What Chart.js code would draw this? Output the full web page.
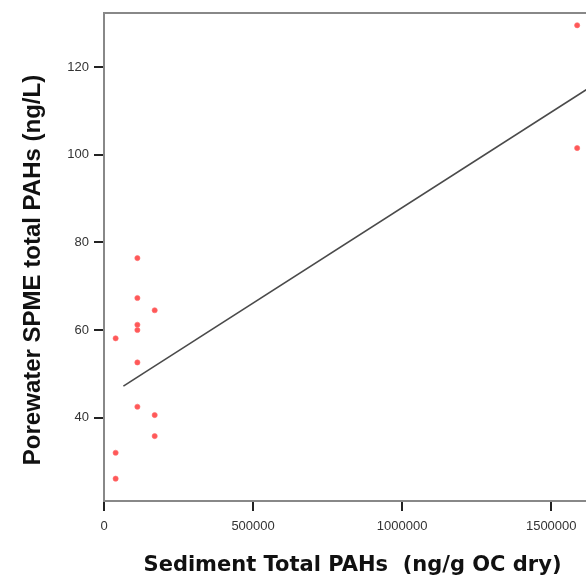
<!DOCTYPE html>
<html><head><meta charset="utf-8">
<script src="https://cdn.jsdelivr.net/npm/chart.js@4.4.1/dist/chart.umd.min.js"></script>
<style>html,body{margin:0;padding:0;background:#fff;overflow:hidden;width:586px;height:580px}#wrap{width:592px;height:580px}</style>
</head><body><div id="wrap"><canvas id="c"></canvas></div>
<script>
const sedimentPAH = [112000, 112000, 170000, 112000, 112000, 39000, 112000, 112000, 170000, 170000, 39000, 39000, 1587000, 1587000];
const porewaterPAH = [76.4, 67.3, 64.5, 61.2, 60.0, 58.1, 52.6, 42.5, 40.6, 35.8, 32.0, 26.1, 129.5, 101.5];
const fitX = [65000, 1620000];
const fitY = [47.2, 114.9];
const xTicks = [0, 500000, 1000000, 1500000];
const yTicks = [40, 60, 80, 100, 120];

const pts = sedimentPAH.map((x, i) => ({x, y: porewaterPAH[i]}));
const fit = fitX.map((x, i) => ({x, y: fitY[i]}));

function shiftTitle(s, dx, dy) {
  if (s._shifted) return;
  s._shifted = true;
  const orig = s.drawTitle;
  s.drawTitle = function () {
    const ctx = this.ctx;
    ctx.save(); ctx.translate(dx, dy); orig.apply(this, arguments); ctx.restore();
  };
}

new Chart(document.getElementById('c'), {
  type: 'scatter',
  data: {datasets: [
    {data: fit, type: 'line', showLine: true, borderColor: '#4a4a4a', borderWidth: 1.6, pointRadius: 0, fill: false, order: 1},
    {data: pts, pointRadius: 2.6, pointBackgroundColor: 'rgba(255,70,70,0.9)', pointBorderColor: 'rgba(255,110,110,0.6)', pointBorderWidth: 1, order: 0}
  ]},
  options: {
    responsive: true, maintainAspectRatio: false, animation: false,
    plugins: {legend: {display: false}, tooltip: {enabled: false}},
    layout: {padding: {left: 19, top: 13, right: 0, bottom: 2}},
    scales: {
      x: {
        type: 'linear', min: 0, max: 1620000,
        afterBuildTicks: s => { s.ticks = xTicks.map(v => ({value: v})); },
        afterFit: s => { s.height = 77; shiftTitle(s, 7, 0); },
        border: {display: true, color: '#888', width: 2},
        grid: {drawOnChartArea: false, tickLength: 10, color: '#222', lineWidth: 2},
        ticks: {padding: 8, color: '#333', font: {family: 'Liberation Sans', size: 13}, callback: v => String(v), maxRotation: 0},
        title: {display: true, text: 'Sediment Total PAHs  (ng/g OC dry)', color: '#111', padding: {top: 0, bottom: 0}, font: {family: 'DejaVu Sans', weight: 'bold', size: 21}}
      },
      x2: {
        type: 'linear', position: 'top', min: 0, max: 1620000,
        afterFit: s => { s.height = 0; },
        border: {display: true, color: '#888', width: 2},
        grid: {display: false}, ticks: {display: false}
      },
      y: {
        type: 'linear', min: 21, max: 132.3,
        afterBuildTicks: s => { s.ticks = yTicks.map(v => ({value: v})); },
        afterFit: s => { s.width = 85; shiftTitle(s, 0, 13); },
        border: {display: true, color: '#888', width: 2},
        grid: {drawOnChartArea: false, tickLength: 10, color: '#222', lineWidth: 2},
        ticks: {padding: 5, color: '#333', font: {family: 'Liberation Sans', size: 13}},
        title: {display: true, text: 'Porewater SPME total PAHs (ng/L)', color: '#111', padding: {top: 0, bottom: 0}, font: {family: 'Liberation Sans', weight: 'bold', size: 24}}
      }
    }
  }
});
</script></body></html>
